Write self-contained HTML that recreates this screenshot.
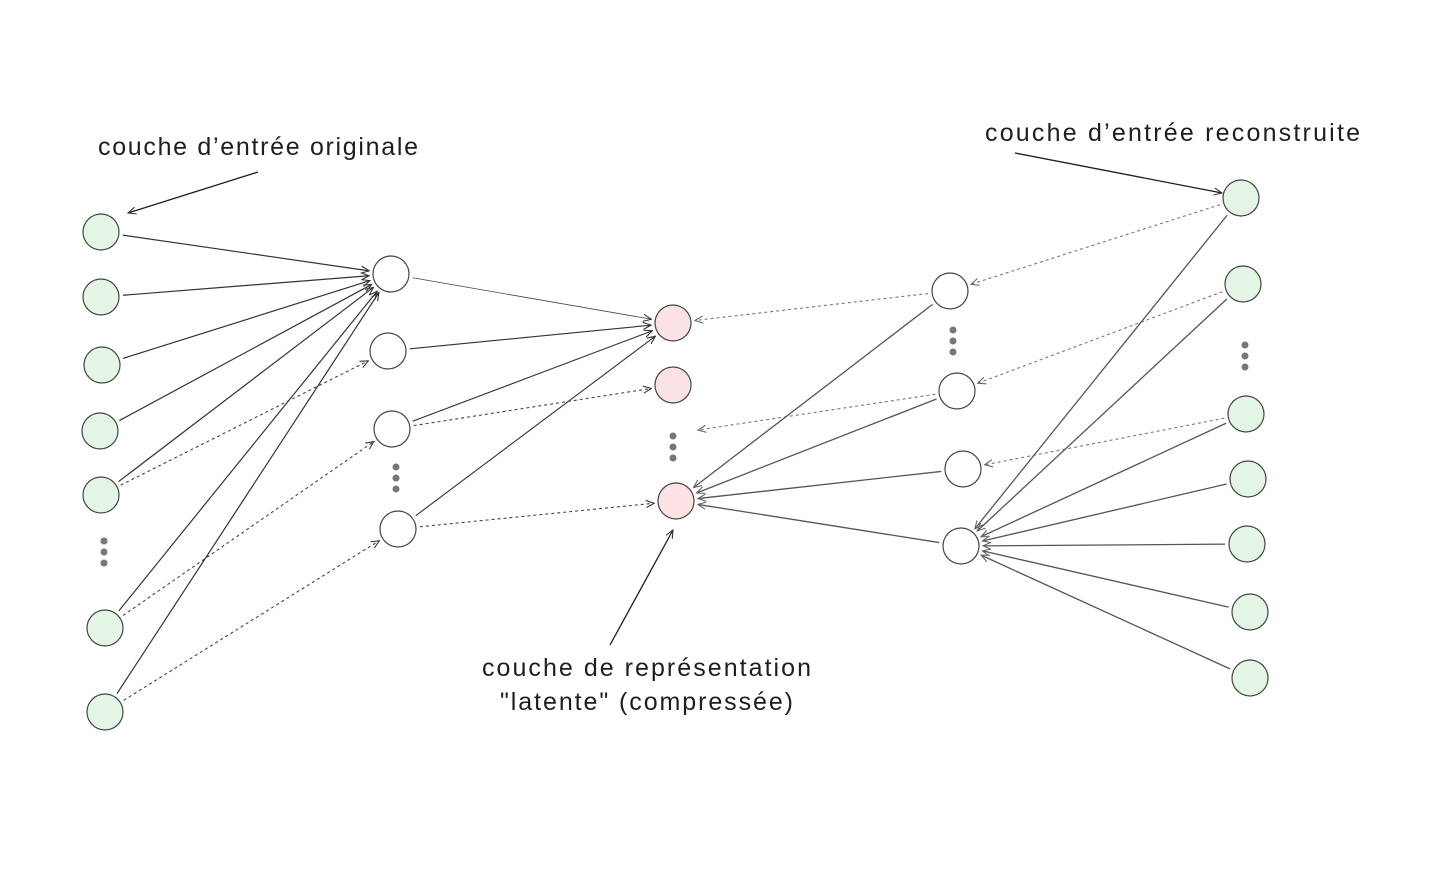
<!DOCTYPE html>
<html><head><meta charset="utf-8"><style>
html,body{margin:0;padding:0;background:#fff;width:1456px;height:874px;overflow:hidden}
svg{display:block}
text{font-family:"Liberation Sans",sans-serif;font-size:25px;fill:#1e1e1e}
</style></head><body>
<svg id="s" width="1456" height="874" viewBox="0 0 1456 874" xmlns="http://www.w3.org/2000/svg">
<defs>
<marker id="a" viewBox="0 0 10 10" refX="9" refY="5" markerWidth="9" markerHeight="9" orient="auto" markerUnits="userSpaceOnUse"><path d="M0,1 L9,5 L0,9" fill="none" stroke="#333" stroke-width="1.2"/></marker>
<marker id="g" viewBox="0 0 10 10" refX="9" refY="5" markerWidth="9" markerHeight="9" orient="auto" markerUnits="userSpaceOnUse"><path d="M0,1 L9,5 L0,9" fill="none" stroke="#666" stroke-width="1.2"/></marker>
</defs>
<g id="edges"></g>
<g id="nodes"></g>
<text x="98" y="155" textLength="320" lengthAdjust="spacing">couche d’entrée originale</text>
<text x="985" y="141" textLength="375" lengthAdjust="spacing">couche d’entrée reconstruite</text>
<text x="482" y="676" textLength="329" lengthAdjust="spacing">couche de représentation</text>
<text x="500" y="710" textLength="293" lengthAdjust="spacing">"latente" (compressée)</text>
</svg>
<script>
var NS="http://www.w3.org/2000/svg";
var E=document.getElementById("edges"),N=document.getElementById("nodes");
var I=[[101,232],[101,297],[102,365],[100,431],[101,495],[105,628],[105,712]];
var H=[[391,274],[388,351],[392,429],[398,529]];
var L=[[673,323],[673,385],[676,501]];
var D=[[950,291],[957,391],[963,469],[961,546]];
var O=[[1241,198],[1243,284],[1246,414],[1248,479],[1247,544],[1250,612],[1250,678]];
var R=18;
function line(p,q,dash,col,mk,w){
 var dx=q[0]-p[0],dy=q[1]-p[1],d=Math.hypot(dx,dy),ux=dx/d,uy=dy/d;
 var e=q.length>2?0:R+4;
 var l=document.createElementNS(NS,"line");
 l.setAttribute("x1",p[0]+ux*(R+4));l.setAttribute("y1",p[1]+uy*(R+4));
 l.setAttribute("x2",q[0]-ux*e);l.setAttribute("y2",q[1]-uy*e);
 l.setAttribute("stroke",col);l.setAttribute("stroke-width",w||1.1);
 if(dash)l.setAttribute("stroke-dasharray","3 3");
 l.setAttribute("marker-end","url(#"+mk+")");E.appendChild(l);}
function circ(p,fill){var c=document.createElementNS(NS,"circle");c.setAttribute("cx",p[0]);c.setAttribute("cy",p[1]);c.setAttribute("r",R);c.setAttribute("fill",fill);c.setAttribute("stroke","#444");c.setAttribute("stroke-width","1.2");N.appendChild(c);}
function dots(x,y){for(var i=0;i<3;i++){var c=document.createElementNS(NS,"circle");c.setAttribute("cx",x);c.setAttribute("cy",y-11+i*11);c.setAttribute("r",3.5);c.setAttribute("fill","#777");N.appendChild(c);}}
I.forEach(function(p){line(p,H[0],0,"#333","a",1.2)});
line(I[4],H[1],1,"#444","a");line(I[5],H[2],1,"#444","a");line(I[6],H[3],1,"#444","a");
line(H[0],L[0],0,"#444","a",0.8);line(H[1],L[0],0,"#333","a");line(H[2],L[0],0,"#333","a");line(H[3],L[0],0,"#333","a");
line(H[2],L[1],1,"#444","a");line(H[3],L[2],1,"#444","a");
line(O[0],D[0],1,"#777","g");line(O[1],D[1],1,"#777","g");line(O[2],D[2],1,"#777","g");
O.forEach(function(p){line(p,D[3],0,"#555","g",1.3)});
line(D[0],L[0],1,"#777","g");line(D[1],[698,430,1],1,"#777","g");
D.forEach(function(p){line(p,L[2],0,"#555","g",1.3)});
I.forEach(function(p){circ(p,"#e3f6e6")});
H.forEach(function(p){circ(p,"#fff")});
L.forEach(function(p){circ(p,"#fbe3e5")});
D.forEach(function(p){circ(p,"#fff")});
O.forEach(function(p){circ(p,"#e3f6e6")});
dots(104,552);dots(396,478);dots(673,447);dots(953,341);dots(1245,356);
function ann(x1,y1,x2,y2){var l=document.createElementNS(NS,"line");l.setAttribute("x1",x1);l.setAttribute("y1",y1);l.setAttribute("x2",x2);l.setAttribute("y2",y2);l.setAttribute("stroke","#1e1e1e");l.setAttribute("stroke-width","1.3");l.setAttribute("marker-end","url(#a)");N.appendChild(l);}
ann(258,172,128,213);ann(1015,153,1222,193);ann(610,645,673,530);
</script>
</body></html>
